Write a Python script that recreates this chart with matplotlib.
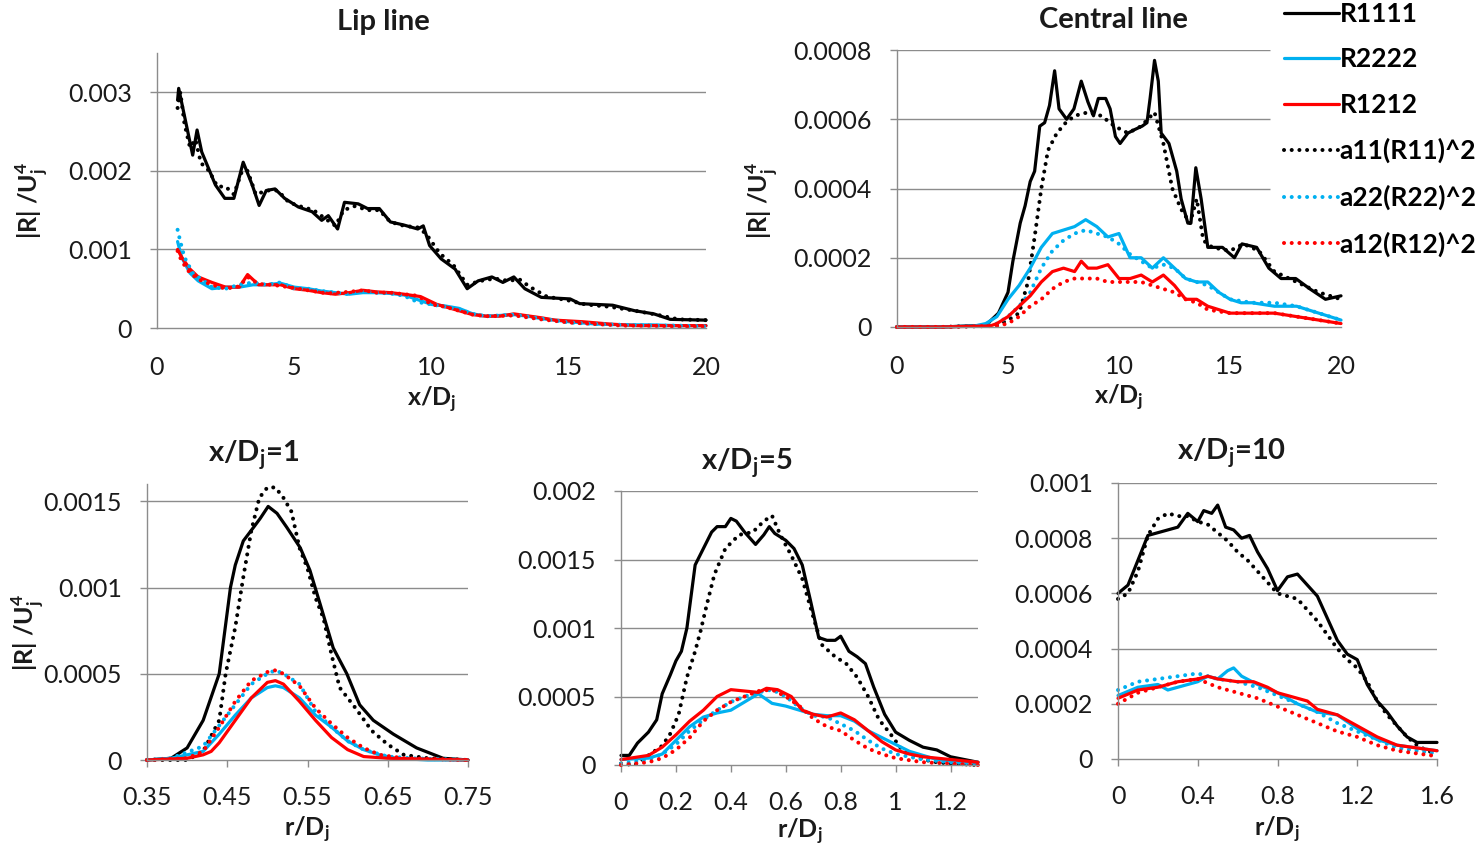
import matplotlib
matplotlib.use('Agg')
import matplotlib.pyplot as plt

plt.rcParams['font.family'] = ['Lato', 'DejaVu Sans']
plt.rcParams['mathtext.fontset'] = 'custom'
plt.rcParams['mathtext.rm'] = 'Lato:bold'
plt.rcParams['mathtext.it'] = 'Lato:bold'
plt.rcParams['mathtext.bf'] = 'Lato:bold'
plt.rcParams['mathtext.default'] = 'rm'

# ---------------- data ----------------
labels = ['R1111', 'R2222', 'R1212', 'a11(R11)^2', 'a22(R22)^2', 'a12(R12)^2']

# Lip line
lip_r1111_x = [0.75, 0.79, 1.0, 1.3, 1.46, 1.63, 2.13, 2.47, 2.8, 3.14, 3.47, 3.72, 3.98, 4.3, 4.65, 5.15, 5.65, 6.0, 6.24,
               6.58, 6.83, 7.33, 7.67, 8.1, 8.5, 9.0, 9.5, 9.7, 9.93, 10.35, 10.86, 11.3, 11.7, 12.2, 12.6, 13.0, 13.4,
               14.0, 15.05, 15.4, 16.6, 17.4, 18.1, 18.7, 20.0]
lip_r1111 = [0.0029, 0.00305, 0.0027, 0.0022, 0.00252, 0.00224, 0.00182, 0.00165, 0.00165, 0.00211, 0.00182, 0.00156,
             0.00175, 0.00177, 0.00165, 0.00154, 0.00148, 0.00137, 0.00143, 0.00126, 0.0016, 0.00158, 0.00152, 0.00152,
             0.00135, 0.00131, 0.00126, 0.0013, 0.00105, 0.00088, 0.00075, 0.0005, 0.0006, 0.00065, 0.00058, 0.00065,
             0.0005, 0.00039, 0.00037, 0.00031, 0.00029, 0.00022, 0.00018, 0.00011, 0.0001]
lip_a11_x = [0.75, 0.85, 1.0, 1.2, 1.4, 1.6, 1.9, 2.2, 2.5, 2.8, 3.1, 3.3, 3.6, 4.0, 4.4, 4.8, 5.2, 5.7, 6.1, 6.5, 6.8,
             7.2, 7.7, 8.1, 8.5, 9.0, 9.5, 9.8, 10.3, 10.8, 11.3, 11.8, 12.3, 12.8, 13.2, 13.6, 14.2, 15.0, 15.6, 16.5,
             17.4, 18.2, 19.0, 20.0]
lip_a11 = [0.0028, 0.0030, 0.0026, 0.0023, 0.0024, 0.0021, 0.0020, 0.0018, 0.0018, 0.0017, 0.0020, 0.0020, 0.0017,
           0.00175, 0.00175, 0.0016, 0.00155, 0.0015, 0.0014, 0.0013, 0.0015, 0.00155, 0.0015, 0.0015, 0.00135, 0.0013,
           0.00128, 0.0012, 0.00095, 0.0008, 0.00055, 0.0006, 0.00063, 0.0006, 0.00062, 0.00052, 0.0004, 0.00035,
           0.0003, 0.00027, 0.00022, 0.00017, 0.00011, 0.0001]
lip_r2222_x = [0.75, 0.9, 1.2, 1.5, 2.0, 2.5, 3.0, 3.5, 4.0, 4.5, 5.0, 5.5, 6.0, 6.5, 7.0, 7.5, 8.0, 8.5, 9.0, 9.5, 10.0,
               10.5, 11.0, 11.5, 12.0, 12.5, 13.0, 13.5, 14.0, 15.0, 16.0, 17.0, 18.0, 19.0, 20.0]
lip_r2222 = [0.0011, 0.0009, 0.0007, 0.0006, 0.0005, 0.00052, 0.00052, 0.00055, 0.00055, 0.00057, 0.00052, 0.0005,
             0.00047, 0.00045, 0.00043, 0.00045, 0.00045, 0.00044, 0.00042, 0.00036, 0.0003, 0.00028, 0.00025, 0.00018,
             0.00015, 0.00016, 0.00017, 0.00015, 0.00012, 0.00008, 0.00005, 0.00004, 0.00004, 0.00003, 0.00003]
lip_a22_x = [0.75, 0.85, 1.0, 1.3, 1.7, 2.0, 2.5, 3.0, 3.5, 4.0, 4.5, 5.0, 5.5, 6.0, 6.5, 7.0, 7.5, 8.0, 8.5, 9.0, 9.5,
             10.0, 10.5, 11.0, 11.5, 12.0, 13.0, 14.0, 15.0, 16.0, 17.0, 18.0, 19.0, 20.0]
lip_a22 = [0.00125, 0.0011, 0.0009, 0.0007, 0.0006, 0.00052, 0.0005, 0.00055, 0.00058, 0.00055, 0.00058, 0.0005, 0.0005,
           0.00047, 0.00045, 0.00043, 0.00047, 0.00045, 0.00044, 0.00041, 0.00033, 0.0003, 0.00027, 0.00024, 0.00018,
           0.00015, 0.00017, 0.00012, 0.00007, 0.00005, 0.00004, 0.00003, 0.00003, 0.00002]
lip_r1212_x = [0.75, 0.9, 1.2, 1.5, 2.0, 2.5, 3.0, 3.3, 3.7, 4.0, 4.5, 5.0, 5.5, 6.0, 6.5, 7.0, 7.5, 8.0, 8.5, 9.0, 9.6,
               10.2, 11.0, 11.5, 12.0, 12.5, 13.0, 14.0, 14.5, 15.5, 16.5, 17.5, 18.5, 20.0]
lip_r1212 = [0.001, 0.0009, 0.00075, 0.00065, 0.00058, 0.00052, 0.00052, 0.00068, 0.00055, 0.00055, 0.00055, 0.0005,
             0.00048, 0.00045, 0.00043, 0.00045, 0.00048, 0.00046, 0.00045, 0.00043, 0.0004, 0.0003, 0.00022, 0.00017,
             0.00015, 0.00015, 0.00018, 0.00013, 0.0001, 0.00008, 0.00005, 0.00003, 0.00003, 0.00003]
lip_a12_x = [0.75, 0.9, 1.2, 1.5, 2.0, 2.5, 3.0, 3.3, 3.7, 4.2, 4.8, 5.5, 6.2, 7.0, 7.5, 8.0, 8.5, 9.0, 9.5, 10.0, 10.5,
             11.0, 11.5, 12.0, 13.0, 14.0, 15.0, 16.0, 17.0, 18.0, 19.0, 20.0]
lip_a12 = [0.00098, 0.00085, 0.0007, 0.00062, 0.00055, 0.0005, 0.00053, 0.00065, 0.00056, 0.00055, 0.00052, 0.00048,
           0.00044, 0.00046, 0.00048, 0.00045, 0.00045, 0.00043, 0.00041, 0.0003, 0.00027, 0.00022, 0.00017, 0.00015,
           0.00016, 0.00011, 0.00007, 0.00005, 0.00003, 0.00003, 0.00002, 0.00002]

# Central line
cen_r1111_x = [0, 2, 4.0, 4.57, 5.0, 5.22, 5.55, 5.77, 6.0, 6.2, 6.43, 6.65, 6.87, 7.1, 7.3, 7.64, 7.97, 8.3, 8.6, 8.85,
               9.07, 9.4, 9.6, 9.84, 10.05, 10.4, 10.7, 11.04, 11.26, 11.4, 11.6, 11.77, 11.9, 12.25, 12.6, 12.8, 13.1,
               13.24, 13.46, 13.7, 14.0, 14.66, 15.2, 15.54, 16.2, 16.75, 17.3, 17.96, 18.6, 19.3, 20.0]
cen_r1111 = [0, 0, 0.000005, 0.00004, 0.0001, 0.00019, 0.0003, 0.00035, 0.00042, 0.00045, 0.00058, 0.00059, 0.00064,
             0.00074, 0.00063, 0.0006, 0.00063, 0.00071, 0.00065, 0.00061, 0.00066, 0.00066, 0.00063, 0.00055, 0.00053,
             0.00056, 0.00057, 0.00058, 0.00059, 0.00066, 0.00077, 0.00071, 0.00056, 0.00053, 0.00045, 0.00037, 0.0003,
             0.0003, 0.00046, 0.00037, 0.00023, 0.00023, 0.0002, 0.00024, 0.00023, 0.00017, 0.00014, 0.00014, 0.00011,
             0.00008, 0.00009]
cen_a11_x = [0, 2, 4.5, 5.0, 5.5, 5.9, 6.2, 6.5, 6.8, 7.2, 7.6, 8.0, 8.6, 9.2, 9.8, 10.4, 11.0, 11.6, 12.0, 12.4, 12.8,
             13.2, 13.5, 13.8, 14.2, 15.0, 15.6, 16.3, 17.0, 18.0, 19.0, 20.0]
cen_a11 = [0, 0, 0.000005, 0.00002, 0.00004, 0.00013, 0.00026, 0.0004, 0.00051, 0.00056, 0.00059, 0.00061, 0.00062,
           0.00061, 0.00058, 0.00056, 0.00058, 0.00062, 0.00053, 0.0004, 0.00034, 0.0003, 0.00037, 0.00025, 0.00023,
           0.00022, 0.00024, 0.00022, 0.00016, 0.00013, 0.0001, 0.00008]
cen_r2222_x = [0, 2, 3.5, 4.0, 4.5, 5.0, 5.5, 6.0, 6.5, 7.0, 7.5, 8.0, 8.5, 9.0, 9.5, 10.0, 10.5, 11.0, 11.5, 12.0, 12.5,
               13.0, 13.5, 14.0, 14.5, 15.0, 15.5, 16.0, 17.0, 18.0, 19.0, 20.0]
cen_r2222 = [0, 0, 0.000003, 0.00001, 0.00003, 0.00008, 0.00012, 0.00017, 0.00023, 0.00027, 0.00028, 0.00029, 0.00031,
             0.00029, 0.00026, 0.00027, 0.0002, 0.0002, 0.00017, 0.0002, 0.00017, 0.00014, 0.00013, 0.00013, 0.0001,
             0.00008, 0.00007, 0.00007, 0.00006, 0.00006, 0.00004, 0.00002]
cen_a22_x = [0, 2, 4.0, 4.5, 5.0, 5.5, 6.0, 6.5, 7.0, 7.5, 8.0, 8.5, 9.0, 9.5, 10.0, 10.5, 11.0, 11.5, 12.0, 12.5, 13.0,
             14.0, 15.0, 16.0, 17.0, 18.0, 19.0, 20.0]
cen_a22 = [0, 0, 0.000003, 0.00001, 0.00003, 0.00006, 0.0001, 0.00017, 0.00022, 0.00025, 0.00027, 0.00028, 0.00027,
           0.00026, 0.00024, 0.00021, 0.00019, 0.00017, 0.00018, 0.00017, 0.00014, 0.00012, 0.00008, 0.00007, 0.00007,
           0.00006, 0.00004, 0.00002]
cen_r1212_x = [0, 2, 4.2, 4.5, 5.0, 5.5, 6.0, 6.5, 7.0, 7.5, 8.0, 8.3, 8.6, 9.0, 9.5, 10.0, 10.5, 11.0, 11.5, 12.0, 12.5,
               13.0, 13.5, 14.0, 15.0, 16.0, 17.0, 18.0, 19.0, 20.0]
cen_r1212 = [0, 0, 0.000003, 0.00001, 0.00003, 0.00006, 0.00009, 0.00013, 0.00016, 0.00017, 0.00016, 0.00019, 0.00017,
             0.00017, 0.00018, 0.00014, 0.00014, 0.00015, 0.00013, 0.00015, 0.00012, 0.00008, 0.00008, 0.00006, 0.00004,
             0.00004, 0.00004, 0.00003, 0.00002, 0.00001]
cen_a12_x = [0, 2, 4.5, 5.0, 5.5, 6.0, 6.5, 7.0, 7.5, 8.0, 8.5, 9.0, 9.5, 10.0, 10.5, 11.0, 11.5, 12.0, 12.5, 13.0, 13.5,
             14.0, 15.0, 16.0, 17.0, 18.0, 19.0, 20.0]
cen_a12 = [0, 0, 0.000003, 0.00001, 0.00003, 0.00006, 0.00008, 0.00011, 0.00013, 0.00014, 0.00014, 0.00014, 0.00013,
           0.00013, 0.00013, 0.00013, 0.00012, 0.00011, 0.0001, 0.00008, 0.00007, 0.00005, 0.00004, 0.00004, 0.00004,
           0.00003, 0.00002, 0.00001]

# x/Dj = 1
p1_r1111_x = [0.35, 0.38, 0.40, 0.42, 0.44, 0.454, 0.46, 0.47, 0.483, 0.491, 0.501, 0.512, 0.524, 0.541, 0.553, 0.566,
              0.582, 0.599, 0.615, 0.632, 0.657, 0.686, 0.719, 0.75]
p1_r1111 = [0, 0.00001, 0.00007, 0.00023, 0.0005, 0.001, 0.00113, 0.00127, 0.00135, 0.0014, 0.00147, 0.00143, 0.00135,
            0.00123, 0.0011, 0.0009, 0.00065, 0.0005, 0.00032, 0.00023, 0.00015, 0.00007, 0.00001, 0]
p1_a11_x = [0.35, 0.40, 0.42, 0.44, 0.448, 0.46, 0.47, 0.48, 0.49, 0.50, 0.51, 0.52, 0.53, 0.54, 0.55, 0.56, 0.57, 0.58,
            0.59, 0.61, 0.63, 0.65, 0.67, 0.70, 0.75]
p1_a11 = [0, 0, 0.00005, 0.00023, 0.0005, 0.00077, 0.00106, 0.00133, 0.00152, 0.00158, 0.00158, 0.00152, 0.00144,
          0.00123, 0.00111, 0.00094, 0.00082, 0.00061, 0.00042, 0.0003, 0.00017, 0.00009, 0.00003, 0.00001, 0]
p1_r2222_x = [0.35, 0.38, 0.40, 0.42, 0.44, 0.46, 0.48, 0.50, 0.51, 0.52, 0.54, 0.56, 0.58, 0.60, 0.62, 0.64, 0.66, 0.70,
              0.75]
p1_r2222 = [0, 0.00001, 0.00003, 0.00005, 0.00015, 0.00026, 0.00036, 0.00042, 0.00043, 0.00042, 0.00036, 0.00026,
            0.00019, 0.00011, 0.00006, 0.00003, 0.00001, 0, 0]
p1_a22_x = [0.35, 0.38, 0.42, 0.44, 0.46, 0.48, 0.50, 0.51, 0.52, 0.54, 0.56, 0.58, 0.60, 0.62, 0.65, 0.68, 0.75]
p1_a22 = [0, 0.00001, 0.00008, 0.0002, 0.00032, 0.00044, 0.0005, 0.00052, 0.0005, 0.00044, 0.00028, 0.00019, 0.00011,
          0.00006, 0.00002, 0.00001, 0]
p1_r1212_x = [0.35, 0.40, 0.42, 0.43, 0.44, 0.46, 0.48, 0.50, 0.51, 0.52, 0.54, 0.56, 0.58, 0.60, 0.62, 0.65, 0.75]
p1_r1212 = [0, 0.00001, 0.00003, 0.00005, 0.0001, 0.00023, 0.00036, 0.00045, 0.00046, 0.00044, 0.00034, 0.00023,
            0.00013, 0.00006, 0.00002, 0.00001, 0]
p1_a12_x = [0.35, 0.40, 0.42, 0.44, 0.46, 0.48, 0.50, 0.51, 0.52, 0.54, 0.56, 0.58, 0.60, 0.62, 0.64, 0.67, 0.75]
p1_a12 = [0, 0.00001, 0.00005, 0.00019, 0.00034, 0.00046, 0.00051, 0.00052, 0.0005, 0.00043, 0.0003, 0.00021, 0.00013,
          0.00007, 0.00003, 0.00001, 0]

# x/Dj = 5
p5_r1111_x = [0, 0.03, 0.06, 0.1, 0.13, 0.15, 0.18, 0.2, 0.22, 0.24, 0.27, 0.3, 0.33, 0.35, 0.38, 0.40, 0.42, 0.45, 0.49,
              0.52, 0.54, 0.56, 0.6, 0.63, 0.66, 0.69, 0.72, 0.75, 0.78, 0.80, 0.83, 0.86, 0.89, 0.92, 0.96, 1.0, 1.05,
              1.1, 1.15, 1.2, 1.25, 1.3]
p5_r1111 = [0.00007, 0.00007, 0.00016, 0.00024, 0.00033, 0.00052, 0.00066, 0.00076, 0.00083, 0.001, 0.00146, 0.00158,
            0.0017, 0.00174, 0.00174, 0.0018, 0.00178, 0.0017, 0.00161, 0.00168, 0.00174, 0.00169, 0.00164, 0.00158,
            0.00146, 0.0012, 0.00093, 0.00091, 0.00091, 0.00094, 0.00083, 0.00079, 0.00074, 0.00057, 0.00037, 0.00024,
            0.00018, 0.00013, 0.00011, 0.00006, 0.00004, 0.00002]
p5_a11_x = [0, 0.05, 0.1, 0.15, 0.18, 0.21, 0.24, 0.27, 0.29, 0.31, 0.34, 0.38, 0.43, 0.48, 0.52, 0.55, 0.58, 0.62, 0.66,
            0.69, 0.73, 0.78, 0.82, 0.86, 0.90, 0.94, 0.98, 1.02, 1.06, 1.1, 1.15, 1.2, 1.3]
p5_a11 = [0.00001, 0, 0.00007, 0.00014, 0.00023, 0.00037, 0.00064, 0.00083, 0.00098, 0.00115, 0.00139, 0.00158, 0.00168,
          0.0017, 0.00178, 0.00182, 0.00168, 0.00153, 0.00136, 0.00115, 0.00088, 0.00079, 0.00074, 0.00064, 0.0005,
          0.00033, 0.00023, 0.00012, 0.00008, 0.00004, 0.00002, 0.00001, 0]
p5_r2222_x = [0, 0.1, 0.15, 0.2, 0.25, 0.3, 0.35, 0.4, 0.45, 0.5, 0.55, 0.6, 0.65, 0.7, 0.75, 0.8, 0.85, 0.9, 0.95, 1.0,
              1.05, 1.1, 1.15, 1.2, 1.3]
p5_r2222 = [0.00004, 0.00005, 0.00008, 0.00018, 0.00028, 0.00035, 0.00038, 0.0004, 0.00046, 0.00052, 0.00045, 0.00043,
            0.0004, 0.00037, 0.00036, 0.00036, 0.00032, 0.00025, 0.0002, 0.00015, 0.0001, 0.00007, 0.00004, 0.00003,
            0.00002]
p5_a22_x = [0, 0.1, 0.15, 0.2, 0.25, 0.3, 0.35, 0.4, 0.45, 0.5, 0.55, 0.6, 0.65, 0.7, 0.75, 0.8, 0.85, 0.9, 0.95, 1.0,
            1.1, 1.2, 1.3]
p5_a22 = [0.00001, 0.00004, 0.00008, 0.00015, 0.00025, 0.00033, 0.0004, 0.00046, 0.0005, 0.00053, 0.00055, 0.0005,
          0.00042, 0.00036, 0.00035, 0.0003, 0.00025, 0.00018, 0.00012, 0.00008, 0.00004, 0.00002, 0.00001]
p5_r1212_x = [0, 0.1, 0.15, 0.2, 0.25, 0.3, 0.35, 0.4, 0.45, 0.5, 0.53, 0.57, 0.62, 0.66, 0.7, 0.75, 0.8, 0.85, 0.9,
              0.95, 1.0, 1.05, 1.1, 1.2, 1.3]
p5_r1212 = [0.00004, 0.00007, 0.00013, 0.00022, 0.00032, 0.0004, 0.0005, 0.00055, 0.00054, 0.00053, 0.00056, 0.00055,
            0.0005, 0.0004, 0.00037, 0.00035, 0.00038, 0.00033, 0.00025, 0.00017, 0.00011, 0.00008, 0.00006, 0.00004,
            0.00002]
p5_a12_x = [0, 0.1, 0.15, 0.2, 0.25, 0.3, 0.35, 0.4, 0.45, 0.5, 0.55, 0.6, 0.65, 0.7, 0.75, 0.8, 0.85, 0.9, 0.95, 1.0,
            1.1, 1.2, 1.3]
p5_a12 = [0, 0.00002, 0.00005, 0.00011, 0.0002, 0.00032, 0.0004, 0.00046, 0.0005, 0.00054, 0.00055, 0.0005, 0.00043,
          0.00034, 0.00028, 0.00025, 0.00018, 0.00012, 0.00008, 0.00005, 0.00002, 0.00001, 0]

# x/Dj = 10
p10_r1111_x = [0, 0.05, 0.1, 0.15, 0.2, 0.25, 0.3, 0.35, 0.4, 0.43, 0.47, 0.5, 0.54, 0.58, 0.62, 0.66, 0.7, 0.75, 0.8,
               0.85, 0.9, 0.95, 1.0, 1.05, 1.1, 1.15, 1.2, 1.25, 1.3, 1.35, 1.4, 1.45, 1.5, 1.55, 1.6]
p10_r1111 = [0.0006, 0.00063, 0.00072, 0.00081, 0.00082, 0.00083, 0.00084, 0.00089, 0.00086, 0.0009, 0.00089, 0.00092,
             0.00084, 0.00083, 0.0008, 0.00081, 0.00075, 0.00069, 0.00061, 0.00066, 0.00067, 0.00063, 0.00059, 0.00051,
             0.00043, 0.00038, 0.00036, 0.00027, 0.00021, 0.00017, 0.00012, 0.00008, 0.00006, 0.00006, 0.00006]
p10_x = [0, 0.1, 0.2, 0.3, 0.4, 0.5, 0.6, 0.7, 0.8, 0.9, 1.0, 1.1, 1.2, 1.3, 1.4, 1.5, 1.6]
p10_a11_x = [0, 0.05, 0.1, 0.15, 0.2, 0.25, 0.3, 0.35, 0.4, 0.45, 0.5, 0.55, 0.6, 0.65, 0.7, 0.75, 0.8, 0.85, 0.9, 0.95,
             1.0, 1.05, 1.1, 1.15, 1.2, 1.25, 1.3, 1.35, 1.4, 1.45, 1.5, 1.55, 1.6]
p10_a11 = [0.00058, 0.0006, 0.00068, 0.00081, 0.00087, 0.00089, 0.00088, 0.00088, 0.00086, 0.00085, 0.00082, 0.00079,
           0.00075, 0.00072, 0.00068, 0.00064, 0.0006, 0.00059, 0.00058, 0.00054, 0.0005, 0.00045, 0.0004, 0.00036,
           0.00033, 0.00028, 0.00021, 0.00016, 0.00012, 0.00008, 0.00005, 0.00003, 0.00002]
p10_r2222_x = [0, 0.1, 0.2, 0.25, 0.3, 0.4, 0.45, 0.5, 0.55, 0.58, 0.62, 0.7, 0.8, 0.9, 1.0, 1.1, 1.2, 1.3, 1.4, 1.5, 1.6]
p10_r2222 = [0.00023, 0.00026, 0.00027, 0.00025, 0.00026, 0.00028, 0.0003, 0.00029, 0.00032, 0.00033, 0.0003, 0.00027,
             0.00024, 0.0002, 0.00017, 0.00016, 0.00011, 0.00007, 0.00005, 0.00004, 0.00003]
p10_a22 = [0.00025, 0.00028, 0.00029, 0.0003, 0.00031, 0.00029, 0.00028, 0.00026, 0.00023, 0.0002, 0.00017, 0.00013,
           0.0001, 0.00007, 0.00004, 0.00003, 0.00002]
p10_r1212_x = [0, 0.1, 0.2, 0.3, 0.4, 0.45, 0.5, 0.6, 0.68, 0.75, 0.8, 0.9, 0.95, 1.0, 1.1, 1.2, 1.3, 1.4, 1.5, 1.6]
p10_r1212 = [0.00022, 0.00025, 0.00026, 0.00028, 0.00029, 0.0003, 0.00029, 0.00028, 0.00028, 0.00026, 0.00024, 0.00022,
             0.00021, 0.00018, 0.00016, 0.00012, 0.00008, 0.00005, 0.00004, 0.00003]
p10_a12 = [0.0002, 0.00024, 0.00026, 0.00028, 0.00029, 0.00026, 0.00024, 0.00022, 0.00019, 0.00016, 0.00013, 0.0001,
           0.00008, 0.00005, 0.00003, 0.00002, 0.00001]

# ---------------- figure ----------------
W, H = 1483, 848
BLACK, BLUE, RED = '#000000', '#00B0F0', '#FF0000'
GRID = '#8c8c8c'
TXT = '#1a1a1a'
SOLID = dict(lw=2.3, solid_capstyle='round', clip_on=False)
DOT = dict(lw=2.9, linestyle=(0, (0.01, 1.9)), dash_capstyle='round', clip_on=False)
TICK_FS = 18
TITLE_FS = 21
LABEL_FS = 18

fig = plt.figure(figsize=(W / 100, H / 100), dpi=100)


def panel(x0, x1, ytop, ybot):
    return fig.add_axes([x0 / W, 1 - ybot / H, (x1 - x0) / W, (ybot - ytop) / H])


def style(ax, xlim, ylim, xticks, yticks, grid_end=None, xmarks=True):
    ax.set_xlim(xlim)
    ax.set_ylim(ylim)
    ax.set_xticks(xticks)
    ax.set_yticks(yticks)
    ax.set_xticklabels([f'{t:g}' for t in xticks])
    ax.set_yticklabels([f'{t:g}' for t in yticks])
    for s in ['top', 'right']:
        ax.spines[s].set_visible(False)
    for s in ['left', 'bottom']:
        ax.spines[s].set_color(GRID)
        ax.spines[s].set_linewidth(1.0)
    ax.tick_params(axis='y', length=5, width=1, color=GRID, pad=13, labelsize=TICK_FS, labelcolor=TXT)
    ax.tick_params(axis='x', length=5 if xmarks else 0, width=1, color=GRID, pad=14 if xmarks else 20,
                   labelsize=TICK_FS, labelcolor=TXT)
    end = xlim[1] if grid_end is None else grid_end
    ax.hlines(yticks[1:], xlim[0], end, color=GRID, lw=1.0, zorder=0.5)
    ax.patch.set_alpha(0)


def draw(ax, series):
    out = []
    for (x, y, c, st) in series:
        out += ax.plot(x, y, color=c, **st)
    return out


def ftext(x, y, s, **kw):
    fig.text(x / W, 1 - y / H, s, ha='center', va='center', color=TXT, **kw)


YLAB = '|R| /U$_j^4$'

# Lip line
ax = panel(157, 706, 53, 328)
style(ax, (0, 20), (0, 0.0035), [0, 5, 10, 15, 20], [0, 0.001, 0.002, 0.003], xmarks=False)
handles = draw(ax, [(lip_r1111_x, lip_r1111, BLACK, SOLID), (lip_r2222_x, lip_r2222, BLUE, SOLID),
                    (lip_r1212_x, lip_r1212, RED, SOLID), (lip_a11_x, lip_a11, BLACK, DOT),
                    (lip_a22_x, lip_a22, BLUE, DOT), (lip_a12_x, lip_a12, RED, DOT)])
ftext(383, 22, 'Lip line', fontsize=TITLE_FS, fontweight='bold')
ftext(432, 400, 'x/D$_j$', fontsize=LABEL_FS, fontweight='bold')
ftext(32, 200, YLAB, fontsize=LABEL_FS, fontweight='bold', rotation=90)

# Central line
ax = panel(897, 1341, 50, 327)
style(ax, (0, 20), (0, 0.0008), [0, 5, 10, 15, 20], [0, 0.0002, 0.0004, 0.0006, 0.0008], grid_end=16.8, xmarks=False)
draw(ax, [(cen_r1111_x, cen_r1111, BLACK, SOLID), (cen_a11_x, cen_a11, BLACK, DOT),
          (cen_r2222_x, cen_r2222, BLUE, SOLID), (cen_a22_x, cen_a22, BLUE, DOT),
          (cen_r1212_x, cen_r1212, RED, SOLID), (cen_a12_x, cen_a12, RED, DOT)])
ftext(1113, 20, 'Central line', fontsize=TITLE_FS, fontweight='bold')
ftext(1119, 398, 'x/D$_j$', fontsize=LABEL_FS, fontweight='bold')
ftext(762, 200, YLAB, fontsize=LABEL_FS, fontweight='bold', rotation=90)

# x/Dj = 1
ax = panel(147, 468, 484, 760)
style(ax, (0.35, 0.75), (0, 0.0016), [0.35, 0.45, 0.55, 0.65, 0.75], [0, 0.0005, 0.001, 0.0015])
draw(ax, [(p1_r1111_x, p1_r1111, BLACK, SOLID), (p1_a11_x, p1_a11, BLACK, DOT),
          (p1_r2222_x, p1_r2222, BLUE, SOLID), (p1_a22_x, p1_a22, BLUE, DOT),
          (p1_a12_x, p1_a12, RED, DOT), (p1_r1212_x, p1_r1212, RED, SOLID)])
ftext(254, 455, 'x/D$_j$=1', fontsize=TITLE_FS, fontweight='bold')
ftext(307, 830, 'r/D$_j$', fontsize=LABEL_FS, fontweight='bold')
ftext(28, 632, YLAB, fontsize=LABEL_FS, fontweight='bold', rotation=90)

# x/Dj = 5
ax = panel(621, 978, 491, 765)
style(ax, (0, 1.3), (0, 0.002), [0, 0.2, 0.4, 0.6, 0.8, 1, 1.2], [0, 0.0005, 0.001, 0.0015, 0.002])
draw(ax, [(p5_r1111_x, p5_r1111, BLACK, SOLID), (p5_a11_x, p5_a11, BLACK, DOT),
          (p5_r2222_x, p5_r2222, BLUE, SOLID), (p5_a22_x, p5_a22, BLUE, DOT),
          (p5_a12_x, p5_a12, RED, DOT), (p5_r1212_x, p5_r1212, RED, SOLID)])
ftext(747, 463, 'x/D$_j$=5', fontsize=TITLE_FS, fontweight='bold')
ftext(800, 832, 'r/D$_j$', fontsize=LABEL_FS, fontweight='bold')

# x/Dj = 10
ax = panel(1118, 1437, 483, 759)
style(ax, (0, 1.6), (0, 0.001), [0, 0.4, 0.8, 1.2, 1.6], [0, 0.0002, 0.0004, 0.0006, 0.0008, 0.001])
draw(ax, [(p10_r1111_x, p10_r1111, BLACK, SOLID), (p10_a11_x, p10_a11, BLACK, DOT),
          (p10_r2222_x, p10_r2222, BLUE, SOLID), (p10_x, p10_a22, BLUE, DOT),
          (p10_x, p10_a12, RED, DOT), (p10_r1212_x, p10_r1212, RED, SOLID)])
ftext(1232, 453, 'x/D$_j$=10', fontsize=TITLE_FS, fontweight='bold')
ftext(1277, 830, 'r/D$_j$', fontsize=LABEL_FS, fontweight='bold')

fig.legend(handles, labels, loc='upper left', bbox_to_anchor=(1284 / W, 1 - 2 / H), frameon=False,
           handlelength=2.1, handletextpad=0.0, labelspacing=0.81, borderpad=0, borderaxespad=0,
           prop=dict(weight='bold', size=19))

fig.savefig('out.png', dpi=100)
